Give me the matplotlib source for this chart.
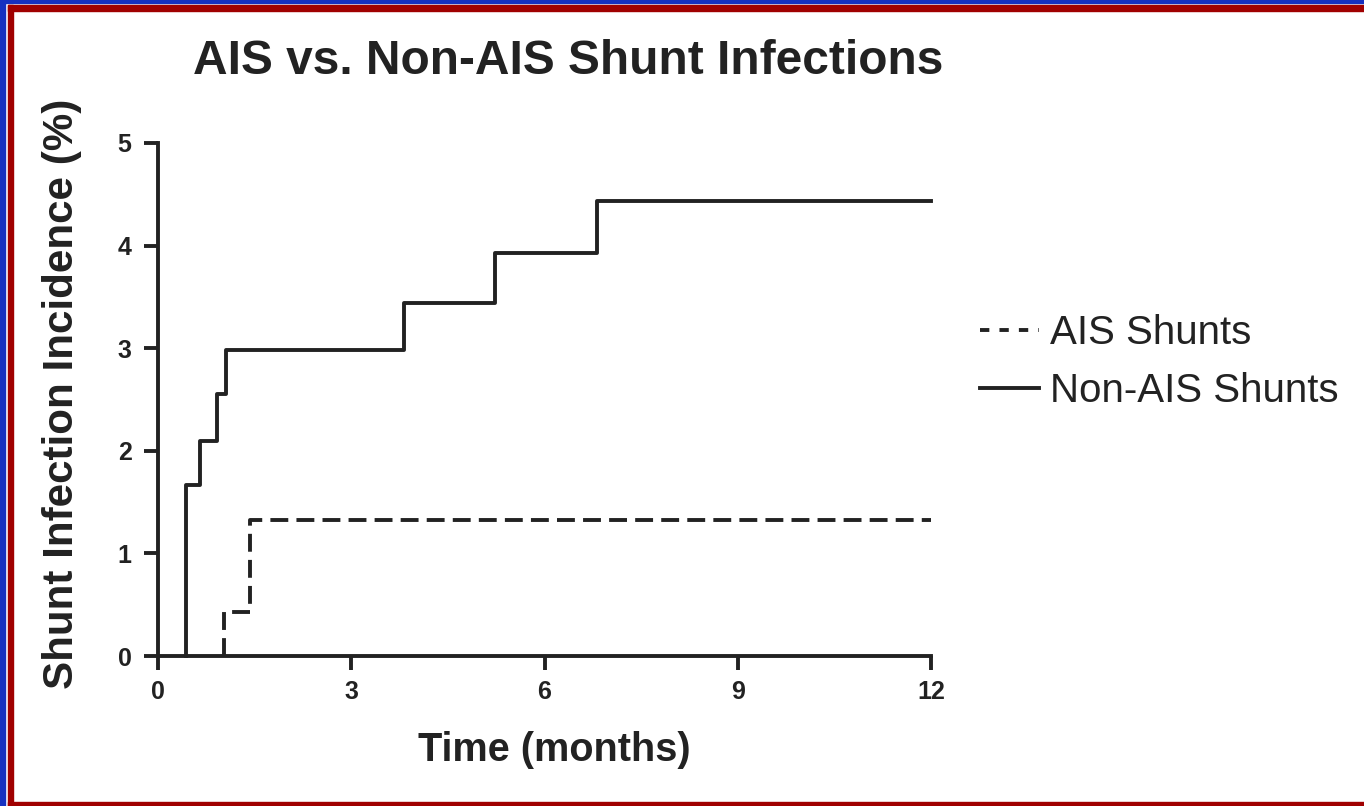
import matplotlib
matplotlib.use("Agg")
from matplotlib import pyplot as plt
from matplotlib.patches import Rectangle
from matplotlib.lines import Line2D

# Kaplan-Meier style step data
non_ais_t = [0.43, 0.43, 0.65, 0.92, 1.05, 3.82, 5.23, 6.82, 12]
non_ais_y = [0.0, 1.67, 2.10, 2.55, 2.98, 3.44, 3.93, 4.43, 4.43]
ais_t = [1.03, 1.03, 1.43, 12]
ais_y = [0.0, 0.43, 1.33, 1.33]

x_ticks = [0, 3, 6, 9, 12]
y_ticks = [0, 1, 2, 3, 4, 5]

title = 'AIS vs. Non-AIS Shunt Infections'
labels = ['AIS Shunts', 'Non-AIS Shunts']


def main():
    plt.rcParams['font.family'] = ['Liberation Sans', 'DejaVu Sans']
    W, H = 1364, 806
    fig = plt.figure(figsize=(W / 100, H / 100), dpi=100)
    fig.patch.set_facecolor('white')

    # frame around the picture: blue outer edge, red inner line
    blue, red = '#1530c0', '#a00000'
    fig.patches.append(Rectangle((0, 0), 5 / W, 1, transform=fig.transFigure, color=blue, zorder=0))
    fig.patches.append(Rectangle((0, 1 - 3 / H), 1, 3 / H, transform=fig.transFigure, color=blue, zorder=0))
    fig.patches.append(Rectangle((8 / W, 0), 5 / W, 1 - 5 / H, transform=fig.transFigure, color=red, zorder=0))
    fig.patches.append(Rectangle((8 / W, 1 - 11 / H), 1 - 8 / W, 6 / H, transform=fig.transFigure, color=red, zorder=0))
    fig.patches.append(Rectangle((8 / W, 0), 1 - 8 / W, 4 / H, transform=fig.transFigure, color=red, zorder=0))

    ax = fig.add_axes([158 / W, 1 - 656 / H, (931 - 158) / W, (656 - 143) / H])
    c = '#222222'
    lw = 2.8
    ax.step(ais_t, ais_y, where='post', color=c, lw=lw, ls=(0, (4.6, 2.1)), clip_on=False)
    ax.step(non_ais_t, non_ais_y, where='post', color=c, lw=lw, clip_on=False)

    ax.set_xlim(0, 12)
    ax.set_ylim(0, 5)
    ax.set_xticks(x_ticks)
    ax.set_yticks(y_ticks)
    for s in ['top', 'right']:
        ax.spines[s].set_visible(False)
    for s in ['left', 'bottom']:
        ax.spines[s].set_linewidth(lw)
        ax.spines[s].set_color(c)
    ax.tick_params(width=lw, length=10, color=c, labelsize=18, pad=9)
    ax.tick_params(axis='x', pad=7)
    for lab in ax.get_xticklabels() + ax.get_yticklabels():
        lab.set_fontweight('bold')
        lab.set_color(c)

    fig.text(568 / W, 1 - 62 / H, title, ha='center', va='center',
             fontsize=34.5, fontweight='bold', color=c)
    fig.text(554 / W, 1 - 750 / H, 'Time (months)', ha='center', va='center',
             fontsize=28.5, fontweight='bold', color=c)
    fig.text(62 / W, 1 - 394 / H, 'Shunt Infection Incidence (%)', ha='center',
             va='center', rotation=90, fontsize=30.3, fontweight='bold', color=c)

    handles = [Line2D([], [], color=c, lw=lw, ls=(0, (2.4, 2.6))),
               Line2D([], [], color=c, lw=lw)]
    fig.legend(handles, labels, loc='center left', bbox_to_anchor=(944 / W, 1 - 362 / H),
               frameon=False, fontsize=29, handlelength=1.45, handletextpad=0.28,
               labelspacing=0.5, labelcolor=c)

    plt.savefig('out.png', dpi=100)


if __name__ == "__main__":
    main()
